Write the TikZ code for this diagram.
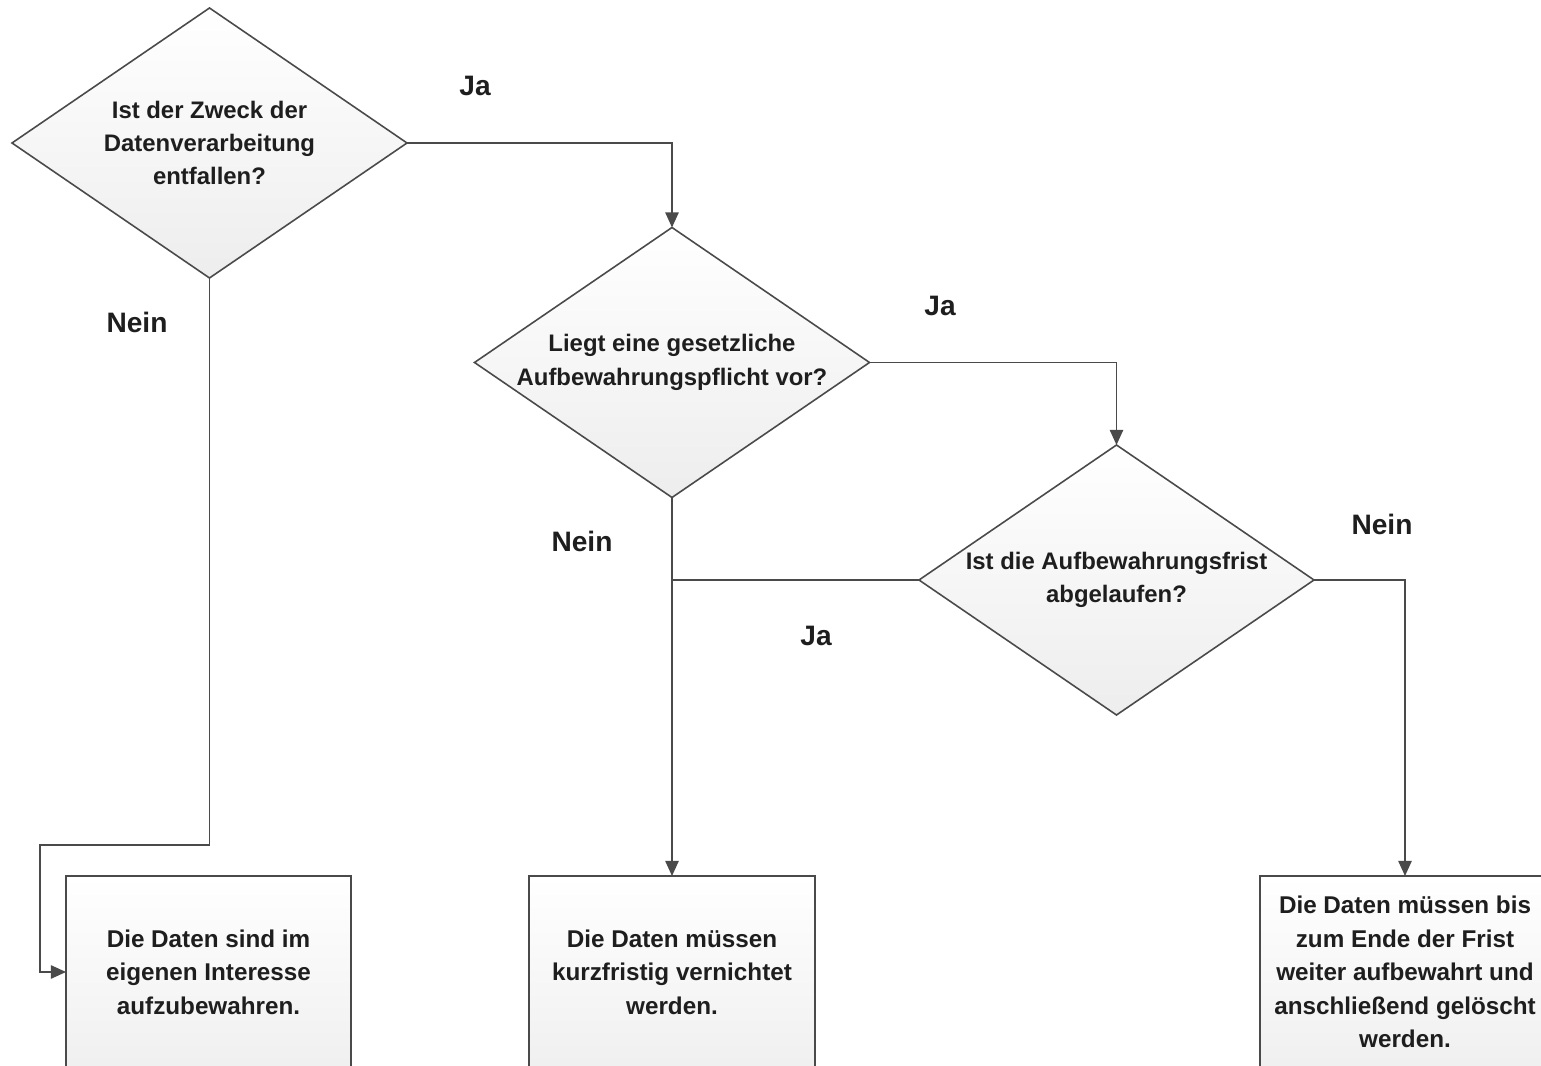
\documentclass[tikz,border=0pt]{standalone}
\usepackage{fontspec}
\setmainfont{Liberation Sans}
\usetikzlibrary{shapes.geometric,arrows.meta}

\definecolor{linegray}{HTML}{4A4A4A}
\definecolor{textgray}{HTML}{1E1E1E}

\tikzset{
    decision/.style={diamond, draw=linegray, line width=0.45pt, aspect=1.46,
        minimum width=3.95cm, minimum height=2.7cm, inner sep=0pt, outer sep=0pt,
        top color=white, bottom color=gray!14, align=center, text=textgray,
        font=\fontsize{6.8}{9.5}\selectfont\bfseries},
    result/.style={rectangle, draw=linegray, line width=0.45pt,
        minimum height=1.92cm, inner sep=0pt, outer sep=0pt,
        top color=white, bottom color=gray!12, align=center, text=textgray,
        font=\fontsize{6.9}{9.5}\selectfont\bfseries},
    answer/.style={text=textgray, font=\fontsize{8}{9}\selectfont\bfseries},
    flow/.style={draw=linegray, line width=0.45pt, -{Triangle[length=4.3pt,width=3.8pt]}},
    link/.style={draw=linegray, line width=0.45pt}
}

\begin{document}
\begin{tikzpicture}
    \useasboundingbox (0,0) rectangle (15.41,-10.66);
    \clip (0,0) rectangle (15.41,-10.66);

% decisions
    \node[decision] (zweck) at (2.095,-1.43) {Ist der Zweck der\\Datenverarbeitung\\entfallen?};
    \node[decision] (pflicht) at (6.72,-3.625) {Liegt eine gesetzliche\\Aufbewahrungspflicht vor?};
    \node[decision] (frist) at (11.165,-5.80) {Ist die Aufbewahrungsfrist\\abgelaufen?};

% results
    \node[result, minimum width=2.85cm] (eigen) at (2.085,-9.72) {Die Daten sind im\\eigenen Interesse\\aufzubewahren.};
    \node[result, minimum width=2.86cm] (vernichten) at (6.72,-9.72) {Die Daten müssen\\kurzfristig vernichtet\\werden.};
    \node[result, minimum width=2.90cm] (loeschen) at (14.05,-9.72) {Die Daten müssen bis\\zum Ende der Frist\\weiter aufbewahrt und\\anschließend gelöscht\\werden.};

% helper points
    \coordinate (umweg) at (0.40,-8.45);
    \coordinate (treffen) at (pflicht.south |- frist.west);

% connectors
    \draw[flow] (zweck.east) -| (pflicht.north);
    \draw[flow] (zweck.south) |- (umweg) |- (eigen.west);
    \draw[flow] (pflicht.east) -| (frist.north);
    \draw[flow] (pflicht.south) -- (vernichten.north);
    \draw[link] (frist.west) -- (treffen);
    \draw[flow] (frist.east) -| (loeschen.north);

% answers
    \node[answer] (ja1) at (4.75,-0.86) {Ja};
    \node[answer] (nein1) at (1.37,-3.22) {Nein};
    \node[answer] (ja2) at (9.40,-3.06) {Ja};
    \node[answer] (nein2) at (5.82,-5.41) {Nein};
    \node[answer] (ja3) at (8.16,-6.36) {Ja};
    \node[answer] (nein3) at (13.82,-5.24) {Nein};

\end{tikzpicture}
\end{document}
